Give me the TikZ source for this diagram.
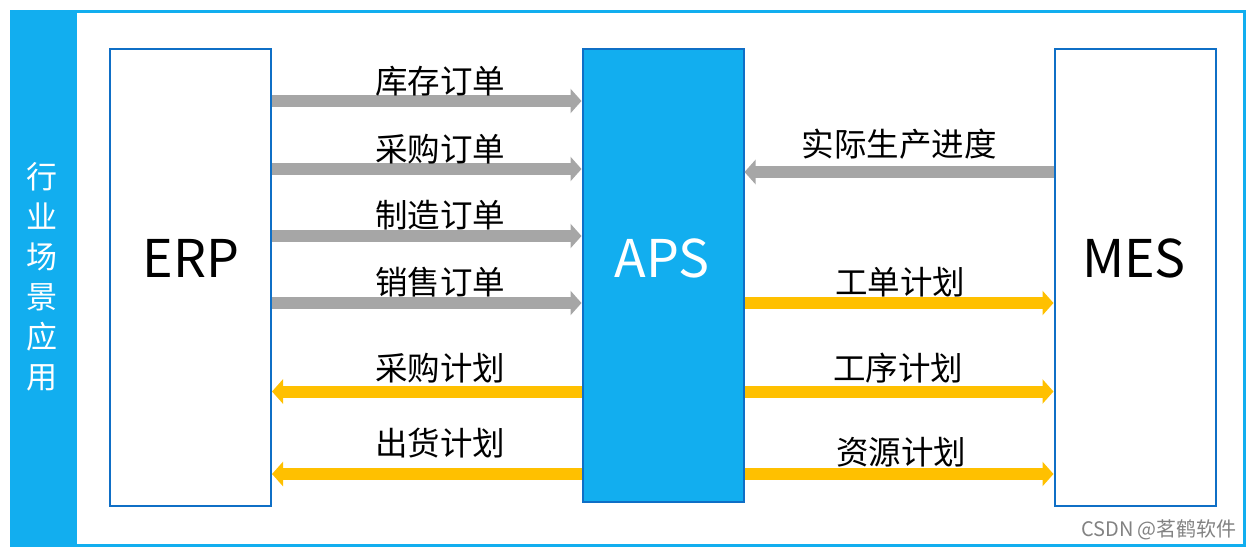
\documentclass[tikz,border=0pt]{standalone}
\usepackage{fontspec}
\newfontfamily\cjk{Noto Sans CJK SC}
\usetikzlibrary{arrows.meta,positioning}
\definecolor{sky}{RGB}{18,174,239}
\definecolor{navy}{RGB}{15,111,198}
\definecolor{ash}{RGB}{166,166,166}
\definecolor{gold}{RGB}{255,192,0}
\definecolor{mark}{RGB}{130,130,130}
\tikzset{
  sys/.style={draw=navy,line width=2pt,fill=#1,minimum width=161pt,minimum height=457pt,
    inner sep=0pt},
  sys/.default=white,
  systitle/.style={font=\cjk\fontsize{52}{52}\selectfont},
  feed/.style={line width=12pt,draw=#1,-{Triangle[width=24pt,length=11pt]}},
  feed/.default=ash,
  lbl/.style={font=\cjk\fontsize{32.5}{32.5}\selectfont,inner sep=0pt},
}
\begin{document}
\begin{tikzpicture}[x=1pt,y=-1pt]
  \useasboundingbox (0,0) rectangle (1250,548);
  % frame and side bar
  \draw[sky,line width=3pt] (75,11.5) rectangle (1244.5,545.5);
  \fill[sky] (10,10) rectangle (76,547);
  \node[font=\cjk\fontsize{31}{40}\selectfont,text=white,align=center,inner sep=0pt] (side) at (42.5,277)
    {行\\业\\场\\景\\应\\用};
  % systems
  \node[sys] (erp) at (190.5,277.5) {};
  \node[sys=sky,minimum height=453pt] (aps) at (663,275.5) {};
  \node[sys] (mes) at (1135,277.5) {};
  \node[systitle] (erpt) at (191,258) {ERP};
  \node[systitle,text=white] (apst) at (662,258) {APS};
  \node[systitle] (mest) at (1134,258) {MES};
  % ERP <-> APS
  \draw[feed] (erp.east |- 0,101) -- (aps.west |- 0,101);
  \draw[feed] (erp.east |- 0,169) -- (aps.west |- 0,169);
  \draw[feed] (erp.east |- 0,236) -- (aps.west |- 0,236);
  \draw[feed] (erp.east |- 0,303) -- (aps.west |- 0,303);
  \draw[feed=gold] (aps.west |- 0,391.5) -- (erp.east |- 0,391.5);
  \draw[feed=gold] (aps.west |- 0,474) -- (erp.east |- 0,474);
  \node[lbl] (l1) at (440,81) {库存订单};
  \node[lbl] (l2) at (440,149) {采购订单};
  \node[lbl] (l3) at (440,215) {制造订单};
  \node[lbl] (l4) at (440,282) {销售订单};
  \node[lbl] (l5) at (440,368) {采购计划};
  \node[lbl] (l6) at (440,443) {出货计划};
  % APS <-> MES
  \draw[feed] (mes.west |- 0,172) -- (aps.east |- 0,172);
  \draw[feed=gold] (aps.east |- 0,303) -- (mes.west |- 0,303);
  \draw[feed=gold] (aps.east |- 0,391.5) -- (mes.west |- 0,391.5);
  \draw[feed=gold] (aps.east |- 0,474) -- (mes.west |- 0,474);
  \node[lbl] (r1) at (899,144) {实际生产进度};
  \node[lbl] (r2) at (900,282) {工单计划};
  \node[lbl] (r3) at (898,368) {工序计划};
  \node[lbl] (r4) at (901,452) {资源计划};
  \node[font=\cjk\fontsize{20}{20}\selectfont,text=mark,inner sep=0pt] (wm) at (1159,530) {CSDN @茗鹤软件};
\end{tikzpicture}
\end{document}
